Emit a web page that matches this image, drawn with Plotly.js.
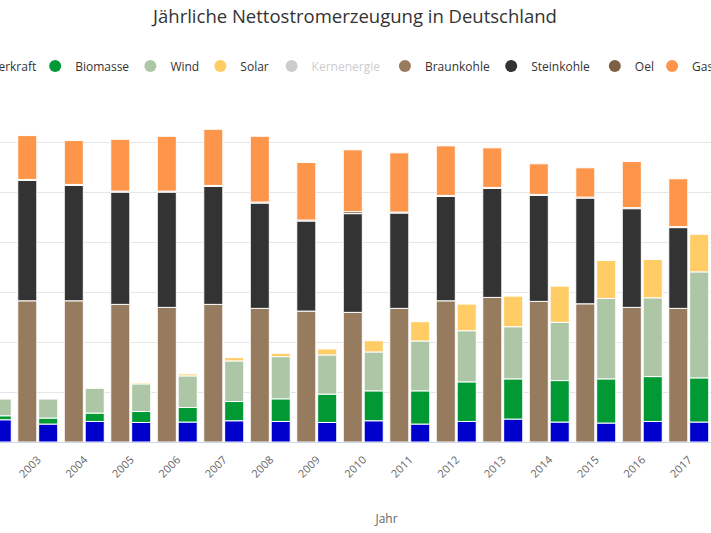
<!DOCTYPE html>
<html>
<head>
<meta charset="utf-8">
<script src="https://cdn.plot.ly/plotly-3.0.1.min.js"></script>
<style>
html,body{margin:0;padding:0;overflow:hidden;width:711px;height:533px;background:#ffffff}
#chart{position:absolute;left:-110px;top:0;width:930px;height:533px}
</style>
</head>
<body>
<div id="chart"></div>
<script>
// ---- data (TWh) ----
const years = [2002,2003,2004,2005,2006,2007,2008,2009,2010,2011,2012,2013,2014,2015,2016,2017];
// 2002's label lies left of the visible area, so only the visible years are labelled
const labelYears = years.slice(1);
const yearLabels = labelYears.map(String);

// renewable stack (right bar of each year)
const wasserkraft = [22.3,18.0,20.6,19.6,20.0,21.3,20.6,19.6,21.3,18.0,20.6,23.0,20.0,19.0,20.6,20.0];
const biomasse    = [4.0,6.0,8.4,11.0,14.6,19.3,22.7,28.4,30.0,33.3,39.7,40.3,41.6,44.3,45.0,44.3];
const wind        = [17.0,19.3,25.0,27.7,31.7,40.7,42.3,39.3,39.0,50.0,51.3,52.3,58.4,80.7,79.0,106.3];
const solar       = [0.2,0.3,0.6,1.3,2.0,3.3,3.4,6.0,11.3,19.3,26.7,30.7,36.3,38.0,38.4,37.7];

// conventional stack (left bar of each year); 2002 lies outside the visible area
const braunkohle  = [null,141.6,141.6,138.0,135.0,138.0,134.0,131.3,130.0,134.0,141.6,145.0,141.0,138.6,135.0,134.0];
const steinkohle  = [null,120.7,115.7,112.6,115.6,118.3,105.6,90.3,99.0,95.6,104.7,109.3,106.3,106.0,99.0,81.0];
const oel         = [null,1,1,1,1,1,1,1,2,1,1,1,1,1,1,1];
const gas         = [null,44.0,44.0,52.0,55.0,56.3,66.0,57.7,62.0,59.4,49.7,39.7,30.7,29.4,46.3,48.0];

const seriesNames = ['Wasserkraft','Biomasse','Wind','Solar','Kernenergie','Braunkohle','Steinkohle','Oel','Gas'];
const seriesColors = ['#0000cc','#009933','#adc6a5','#ffcc66','#999999','#977b5f','#333333','#7d5f42','#fd964b'];

// ---- layout constants (pixels) ----
const W = 930, H = 533;
const M = {l:78, r:14.5, t:92.5, b:90.5};
const plotW = W - M.l - M.r;
const pageShift = 110; // the chart div is shifted left by this much
const legendCenterY = 65.5;
const legendLeftPage = [-70.8, 35.2, 130.5, 200.5, 271.8, 385.2, 491.5, 595.2, 652.5];
const FONT = 'Open Sans, DejaVu Sans, sans-serif';

function stackTraces(groupVals, names, colors, offset, width) {
  const out = [];
  let base = years.map(() => 0);
  groupVals.forEach((vals, i) => {
    out.push({
      type: 'bar', name: names[i], x: years, y: vals, base: base.slice(),
      offset: offset, width: width,
      marker: {color: colors[i], line: {color: '#ffffff', width: 1}},
      legendgroup: names[i], showlegend: false, hoverinfo: 'name+y'
    });
    base = base.map((b, k) => b + (vals[k] || 0));
  });
  return out;
}

const traces = [];
traces.push(...stackTraces([braunkohle, steinkohle, oel, gas],
  ['Braunkohle','Steinkohle','Oel','Gas'],
  [seriesColors[5], seriesColors[6], seriesColors[7], seriesColors[8]], -0.43, 0.41));
traces.push(...stackTraces([wasserkraft, biomasse, wind, solar],
  ['Wasserkraft','Biomasse','Wind','Solar'],
  [seriesColors[0], seriesColors[1], seriesColors[2], seriesColors[3]], 0.02, 0.41));

// legend entries (circle symbols), one small legend per entry
const layoutLegends = {};
seriesNames.forEach((nm, i) => {
  const key = i === 0 ? 'legend' : 'legend' + (i + 1);
  traces.push({
    type: 'scatter', mode: 'markers', x: [null], y: [null],
    name: nm, legendgroup: nm, legend: key,
    visible: nm === 'Kernenergie' ? 'legendonly' : true,
    marker: {color: seriesColors[i], size: 12, symbol: 'circle'},
    showlegend: true
  });
  layoutLegends[key] = {
    orientation: 'h',
    x: (legendLeftPage[i] + pageShift - M.l) / plotW, xanchor: 'left',
    y: (H - M.b - legendCenterY) / (H - M.t - M.b), yanchor: 'middle',
    bgcolor: 'rgba(0,0,0,0)', borderwidth: 0,
    font: {family: FONT, size: 12, color: nm === 'Kernenergie' ? '#999999' : '#333333'}
  };
});

const layout = Object.assign({
  width: W, height: H,
  margin: Object.assign({autoexpand: false}, M),
  paper_bgcolor: '#ffffff', plot_bgcolor: '#ffffff',
  barmode: 'overlay',
  font: {family: FONT, color: '#333333'},
  title: {
    text: 'Jährliche Nettostromerzeugung in Deutschland',
    font: {family: FONT, size: 18.5, color: '#333333'},
    x: 0.5, xanchor: 'center', xref: 'container',
    y: 1 - 16.5 / H, yanchor: 'middle', yref: 'container'
  },
  xaxis: {
    type: 'linear',
    range: [2001.5, 2019.5],
    tickmode: 'array', tickvals: labelYears, ticktext: yearLabels,
    tickangle: -45, ticks: '', ticklabelstandoff: 6,
    tickfont: {family: FONT, size: 11, color: '#666666'},
    showgrid: false, zeroline: false,
    showline: true, linecolor: '#ccd6eb', linewidth: 1,
    automargin: false,
    title: {text: 'Jahr', font: {family: FONT, size: 12, color: '#666666'}, standoff: 35}
  },
  yaxis: {
    range: [0, 350], dtick: 50,
    showticklabels: false, ticks: '',
    showgrid: true, gridcolor: '#e6e6e6', gridwidth: 1,
    zeroline: false, showline: false, automargin: false
  },
  showlegend: true
}, layoutLegends);

Plotly.newPlot('chart', traces, layout, {staticPlot: true, displayModeBar: false});
</script>
</body>
</html>
